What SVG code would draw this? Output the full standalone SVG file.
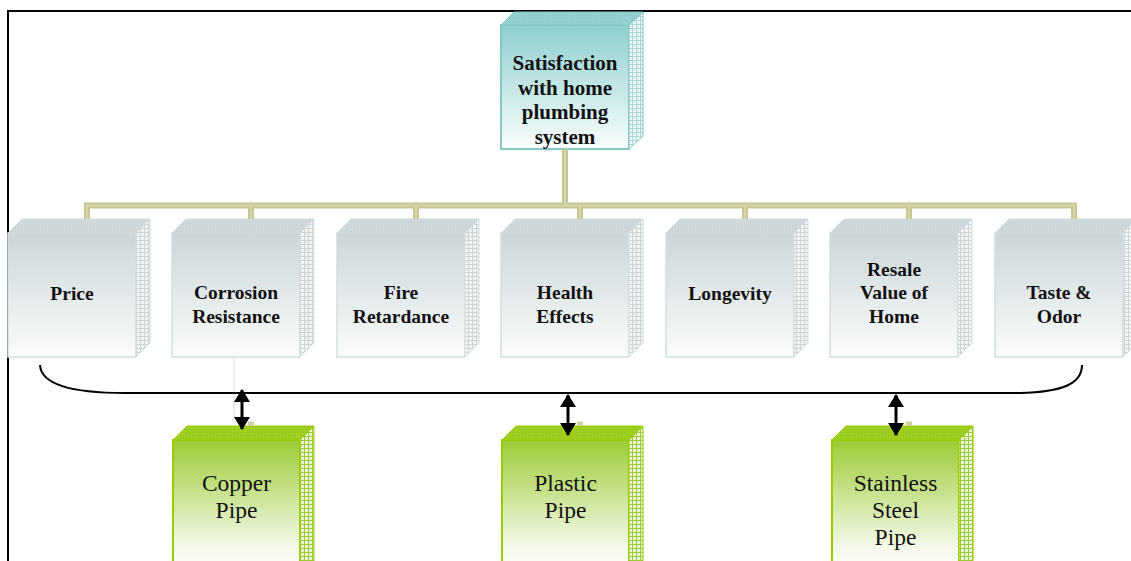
<svg xmlns="http://www.w3.org/2000/svg" width="1131" height="561" viewBox="0 0 1131 561">
<style>
.frame{fill:none;stroke:#000;stroke-width:2}
.tree{fill:none;stroke:#c6c693;stroke-width:6}
.treein{fill:none;stroke:#d6d6ad;stroke-width:2}
.brace{fill:none;stroke:#000;stroke-width:2}
.arr{fill:none;stroke:#000;stroke-width:3;marker-start:url(#ah);marker-end:url(#ah)}
.gline{stroke:#dcdcdc;stroke-width:1}
.cf{fill:url(#gGray);stroke:#d3dddf;stroke-width:1.5}
.ct{fill:url(#pGrayTop);stroke:#d3dddf;stroke-width:1}
.cs{fill:url(#pGraySide);stroke:#d3dddf;stroke-width:1}
.tf{fill:url(#gTeal);stroke:#86c8c8;stroke-width:2}
.tt{fill:url(#pTealTop);stroke:#86c8c8;stroke-width:1}
.ts{fill:url(#pTealSide);stroke:#86c8c8;stroke-width:1}
.pf{fill:url(#gGreen);stroke:#99cc00;stroke-width:2}
.pt{fill:url(#pGreenTop);stroke:#99cc00;stroke-width:1}
.ps{fill:url(#pGreenSide);stroke:#99cc00;stroke-width:1}
.lb{font-family:"Liberation Serif","Times New Roman",serif;font-weight:bold;font-size:19.5px;fill:#111;text-anchor:middle}
.lt{font-family:"Liberation Serif","Times New Roman",serif;font-weight:bold;font-size:21px;fill:#111;text-anchor:middle}
.lp{font-family:"Liberation Serif","Times New Roman",serif;font-size:23.5px;fill:#111;text-anchor:middle}
</style>
<defs>
<linearGradient id="gGray" x1="0" y1="0" x2="0" y2="1">
<stop offset="0" stop-color="#cbd6d8"/><stop offset="1" stop-color="#fbfcfc"/>
</linearGradient>
<linearGradient id="gTeal" x1="0" y1="0" x2="0" y2="1">
<stop offset="0" stop-color="#8ecfcf"/><stop offset="1" stop-color="#fafdfd"/>
</linearGradient>
<linearGradient id="gGreen" x1="0" y1="0" x2="0" y2="1">
<stop offset="0" stop-color="#9ccc34"/><stop offset="0.75" stop-color="#f2f8e6"/><stop offset="1" stop-color="#ffffff"/>
</linearGradient>
<pattern id="pGraySide" width="4" height="4" patternUnits="userSpaceOnUse">
<rect width="4" height="4" fill="#f3f5f5"/><path d="M0 0.5H4M0.5 0V4" stroke="#cdd4d6" stroke-width="1"/>
</pattern>
<pattern id="pGrayTop" width="3" height="3" patternUnits="userSpaceOnUse">
<rect width="3" height="3" fill="#cfd8da"/><rect width="1" height="1" fill="#c4cecf"/>
</pattern>
<pattern id="pTealSide" width="4" height="4" patternUnits="userSpaceOnUse">
<rect width="4" height="4" fill="#eaf5f5"/><path d="M0 0.5H4M0.5 0V4" stroke="#acd6d6" stroke-width="1"/>
</pattern>
<pattern id="pTealTop" width="3" height="3" patternUnits="userSpaceOnUse">
<rect width="3" height="3" fill="#94d0d0"/><rect width="1" height="1" fill="#88c6c6"/>
</pattern>
<pattern id="pGreenSide" width="4" height="4" patternUnits="userSpaceOnUse">
<rect width="4" height="4" fill="#ebf5d6"/><path d="M0 0.5H4M0.5 0V4" stroke="#9cc936" stroke-width="1"/>
</pattern>
<pattern id="pGreenTop" width="3" height="3" patternUnits="userSpaceOnUse">
<rect width="3" height="3" fill="#9fcf22"/><rect width="1" height="1" fill="#90c214"/>
</pattern>
<marker id="ah" viewBox="0 0 13 16" refX="12" refY="8" markerWidth="13" markerHeight="16" orient="auto-start-reverse" markerUnits="userSpaceOnUse">
<path d="M0 0L13 8L0 16Z" fill="#000"/>
</marker>
</defs>
<rect width="1131" height="561" fill="#fff"/>
<path class="frame" d="M8 561V11H1131"/>

<g id="node-top">
<rect class="tf" x="501" y="25" width="128" height="124"/>
<polygon class="tt" points="501,25 514,12 643,12 629,25"/>
<polygon class="ts" points="629,25 643,12 643,136 629,149"/>
<text class="lt" x="565" y="70">Satisfaction</text>
<text class="lt" x="565" y="94.5">with home</text>
<text class="lt" x="565" y="119">plumbing</text>
<text class="lt" x="565" y="143.5">system</text>
</g>

<g id="node-price">
<rect class="cf" x="8" y="233" width="128" height="124"/>
<polygon class="ct" points="8,233 22,219 150,219 136,233"/>
<polygon class="cs" points="136,233 150,219 150,343 136,357"/>
<text class="lb" x="72" y="300">Price</text>
</g>
<g id="node-corrosion">
<rect class="cf" x="172" y="233" width="128" height="124"/>
<polygon class="ct" points="172,233 186,219 314,219 300,233"/>
<polygon class="cs" points="300,233 314,219 314,343 300,357"/>
<text class="lb" x="236" y="299">Corrosion</text>
<text class="lb" x="236" y="323">Resistance</text>
</g>
<g id="node-fire">
<rect class="cf" x="337" y="233" width="128" height="124"/>
<polygon class="ct" points="337,233 351,219 479,219 465,233"/>
<polygon class="cs" points="465,233 479,219 479,343 465,357"/>
<text class="lb" x="401" y="299">Fire</text>
<text class="lb" x="401" y="323">Retardance</text>
</g>
<g id="node-health">
<rect class="cf" x="501" y="233" width="128" height="124"/>
<polygon class="ct" points="501,233 515,219 643,219 629,233"/>
<polygon class="cs" points="629,233 643,219 643,343 629,357"/>
<text class="lb" x="565" y="299">Health</text>
<text class="lb" x="565" y="323">Effects</text>
</g>
<g id="node-longevity">
<rect class="cf" x="666" y="233" width="128" height="124"/>
<polygon class="ct" points="666,233 680,219 808,219 794,233"/>
<polygon class="cs" points="794,233 808,219 808,343 794,357"/>
<text class="lb" x="730" y="300">Longevity</text>
</g>
<g id="node-resale">
<rect class="cf" x="830" y="233" width="128" height="124"/>
<polygon class="ct" points="830,233 844,219 972,219 958,233"/>
<polygon class="cs" points="958,233 972,219 972,343 958,357"/>
<text class="lb" x="894" y="276">Resale</text>
<text class="lb" x="894" y="299">Value of</text>
<text class="lb" x="894" y="323">Home</text>
</g>
<g id="node-taste">
<rect class="cf" x="995" y="233" width="128" height="124"/>
<polygon class="ct" points="995,233 1009,219 1137,219 1123,233"/>
<polygon class="cs" points="1123,233 1137,219 1137,343 1123,357"/>
<text class="lb" x="1059" y="299">Taste &amp;</text>
<text class="lb" x="1059" y="323">Odor</text>
</g>

<g id="node-copper">
<rect class="pf" x="173" y="440" width="127" height="140"/>
<polygon class="pt" points="173,440 187,426 314,426 300,440"/>
<polygon class="ps" points="300,440 314,426 314,570 300,580"/>
<text class="lp" x="236.5" y="491">Copper</text>
<text class="lp" x="236.5" y="518">Pipe</text>
</g>
<g id="node-plastic">
<rect class="pf" x="502" y="440" width="127" height="140"/>
<polygon class="pt" points="502,440 516,426 643,426 629,440"/>
<polygon class="ps" points="629,440 643,426 643,570 629,580"/>
<text class="lp" x="565.5" y="491">Plastic</text>
<text class="lp" x="565.5" y="518">Pipe</text>
</g>
<g id="node-steel">
<rect class="pf" x="832" y="440" width="127" height="140"/>
<polygon class="pt" points="832,440 846,426 973,426 959,440"/>
<polygon class="ps" points="959,440 973,426 973,570 959,580"/>
<text class="lp" x="895.5" y="491">Stainless</text>
<text class="lp" x="895.5" y="518">Steel</text>
<text class="lp" x="895.5" y="545">Pipe</text>
</g>

<g id="connectors">
<path class="tree" d="M565 149V205.5M87 219V205.5H1074V219M251 205.5V219M416 205.5V219M580 205.5V219M745 205.5V219M909 205.5V219"/>
<path class="treein" d="M565 150V205.5M87 219V205.5H1074V219M251 205.5V219M416 205.5V219M580 205.5V219M745 205.5V219M909 205.5V219"/>
<rect x="248" y="421.5" width="6" height="4.5" fill="#cfcfa2"/>
<rect x="577" y="421.5" width="6" height="4.5" fill="#cfcfa2"/>
<rect x="906" y="421.5" width="6" height="4.5" fill="#cfcfa2"/>
<line class="gline" x1="234" y1="358" x2="234" y2="420"/>
<path class="brace" d="M40 365C41 384 72 393 125 393H1020C1062 392 1082 384 1082 365"/>
<line class="arr" x1="242" y1="390" x2="242" y2="429"/>
<line class="arr" x1="568" y1="395" x2="568" y2="435"/>
<line class="arr" x1="896" y1="395" x2="896" y2="435"/>
</g>
</svg>
